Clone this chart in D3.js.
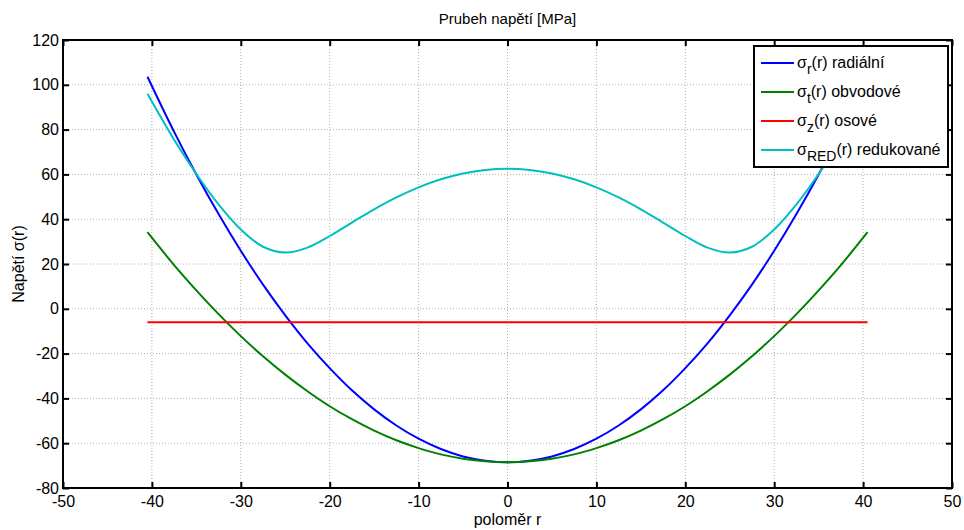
<!DOCTYPE html>
<html>
<head>
<meta charset="utf-8">
<script src="https://cdn.jsdelivr.net/npm/d3@7"></script>
<style>
  body { margin: 0; background: #fff; }
  svg text { font-family: "Liberation Sans", Arial, sans-serif; fill: #000; }
  .grid line { stroke: #b0b0b0; stroke-dasharray: 1,2; }
</style>
</head>
<body>
<div class="container"></div>
<script>
const WIDTH = 964;
const HEIGHT = 530;
const LEFT = 63;
const RIGHT = 952;
const TOP = 40;
const BOTTOM = 488;

// values
const radius = [-40.5, -37.5, -35, -32.5, -30, -27.5, -25, -22.5, -20, -17.5, -15, -12.5, -10, -7.5, -5, -2.5,
  0, 2.5, 5, 7.5, 10, 12.5, 15, 17.5, 20, 22.5, 25, 27.5, 30, 32.5, 35, 37.5, 40.5];
const sigmaR = [103.6, 79.0, 60.0, 42.3, 25.9, 10.8, -2.9, -15.4, -26.5, -36.4, -44.9, -52.1, -58.0, -62.6, -65.9, -67.8,
  -68.5, -67.8, -65.9, -62.6, -58.0, -52.1, -44.9, -36.4, -26.5, -15.4, -2.9, 10.8, 25.9, 42.3, 60.0, 79.0, 103.6];
const sigmaT = [34.2, 19.5, 8.2, -2.4, -12.2, -21.2, -29.4, -36.8, -43.5, -49.3, -54.4, -58.7, -62.2, -65.0, -66.9, -68.1,
  -68.5, -68.1, -66.9, -65.0, -62.2, -58.7, -54.4, -49.3, -43.5, -36.8, -29.4, -21.2, -12.2, -2.4, 8.2, 19.5, 34.2];
const sigmaZ = [-6, -6, -6, -6, -6, -6, -6, -6, -6, -6, -6, -6, -6, -6, -6, -6,
  -6, -6, -6, -6, -6, -6, -6, -6, -6, -6, -6, -6, -6, -6, -6, -6, -6];
const sigmaRed = [96.0, 75.5, 60.2, 46.6, 35.4, 27.7, 25.1, 27.3, 32.5, 38.5, 44.4, 49.7, 54.2, 57.8, 60.4, 62.0,
  62.5, 62.0, 60.4, 57.8, 54.2, 49.7, 44.4, 38.5, 32.5, 27.3, 25.1, 27.7, 35.4, 46.6, 60.2, 75.5, 96.0];

const xTicks = [-50, -40, -30, -20, -10, 0, 10, 20, 30, 40, 50];
const yTicks = [-80, -60, -40, -20, 0, 20, 40, 60, 80, 100, 120];

const series = [
  { name: 'r', label: ' radiální', color: '#0000ff', values: sigmaR },
  { name: 't', label: ' obvodové', color: '#008000', values: sigmaT },
  { name: 'z', label: ' osové', color: '#ff0000', values: sigmaZ },
  { name: 'RED', label: ' redukované', color: '#00bfbf', values: sigmaRed }
];

const svg = d3.select('.container').append('svg')
  .attr('width', WIDTH)
  .attr('height', HEIGHT);

const x = d3.scaleLinear().domain([-50, 50]).range([LEFT, RIGHT]);
const y = d3.scaleLinear().domain([-80, 120]).range([BOTTOM, TOP]);
const plain = d => String(d);

// grid
const grid = svg.append('g').classed('grid', true);
grid.selectAll('.gx').data(xTicks.slice(1, -1)).enter().append('line')
  .attr('x1', d => x(d)).attr('x2', d => x(d))
  .attr('y1', TOP).attr('y2', BOTTOM);
grid.selectAll('.gy').data(yTicks.slice(1, -1)).enter().append('line')
  .attr('y1', d => y(d)).attr('y2', d => y(d))
  .attr('x1', LEFT).attr('x2', RIGHT);

// lines
const line = d3.line()
  .curve(d3.curveCatmullRom)
  .x((d, i) => x(radius[i]))
  .y(d => y(d));

series.forEach(function (s) {
  svg.append('path')
    .attr('d', line(s.values))
    .attr('fill', 'none')
    .attr('stroke', s.color)
    .attr('stroke-width', 2);
});

// axes (matlab style: ticks inside, on all four sides)
const axisStyle = function (g) {
  g.select('.domain').remove();
  g.selectAll('.tick line').attr('stroke', '#000').attr('stroke-width', 2);
  g.selectAll('.tick text').style('font-size', '16px');
};

svg.append('g')
  .attr('transform', 'translate(0,' + BOTTOM + ')')
  .call(d3.axisBottom(x).tickValues(xTicks).tickSizeInner(-6).tickPadding(8).tickFormat(plain))
  .call(axisStyle);
svg.append('g')
  .attr('transform', 'translate(0,' + TOP + ')')
  .call(d3.axisTop(x).tickValues(xTicks).tickSizeInner(-6).tickFormat(''))
  .call(axisStyle);
svg.append('g')
  .attr('transform', 'translate(' + LEFT + ',0)')
  .call(d3.axisLeft(y).tickValues(yTicks).tickSizeInner(-6).tickPadding(4).tickFormat(plain))
  .call(axisStyle);
svg.append('g')
  .attr('transform', 'translate(' + RIGHT + ',0)')
  .call(d3.axisRight(y).tickValues(yTicks).tickSizeInner(-6).tickFormat(''))
  .call(axisStyle);

svg.append('rect')
  .attr('x', LEFT).attr('y', TOP)
  .attr('width', RIGHT - LEFT).attr('height', BOTTOM - TOP)
  .attr('fill', 'none').attr('stroke', '#000').attr('stroke-width', 2);

// titles
svg.append('text')
  .attr('x', (LEFT + RIGHT) / 2).attr('y', 24)
  .attr('text-anchor', 'middle').style('font-size', '15px')
  .text('Prubeh napětí [MPa]');
svg.append('text')
  .attr('x', (LEFT + RIGHT) / 2).attr('y', 525)
  .attr('text-anchor', 'middle').style('font-size', '16px')
  .text('poloměr r');
svg.append('text')
  .attr('transform', 'translate(24,' + (TOP + BOTTOM) / 2 + ') rotate(-90)')
  .attr('text-anchor', 'middle').style('font-size', '16px')
  .text('Napětí σ(r)');

// legend
const legend = svg.append('g').attr('transform', 'translate(754,46)');
legend.append('rect')
  .attr('width', 194).attr('height', 121)
  .attr('fill', '#fff').attr('stroke', '#000').attr('stroke-width', 2);

const items = legend.selectAll('.item').data(series).enter().append('g')
  .attr('transform', (d, i) => 'translate(0,' + (17 + i * 29) + ')');
items.append('line')
  .attr('x1', 7).attr('x2', 40)
  .attr('stroke', d => d.color).attr('stroke-width', 2);
const label = items.append('text')
  .attr('x', 43).attr('y', 5)
  .style('font-size', '16px');
label.append('tspan').text('σ');
label.append('tspan').attr('dy', 6).style('font-size', '14px').text(d => d.name);
label.append('tspan').attr('dy', -6).text(d => '(r)' + d.label);
</script>
</body>
</html>
